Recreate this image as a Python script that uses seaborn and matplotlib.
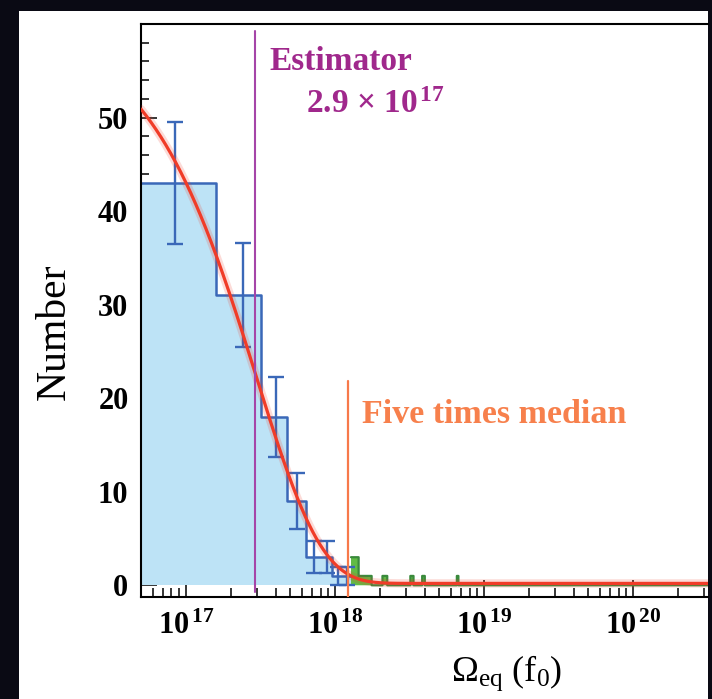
import numpy as np
import pandas as pd
import matplotlib
matplotlib.use("Agg")
import matplotlib.pyplot as plt
import seaborn as sns
from matplotlib.patches import Rectangle
from matplotlib.ticker import FixedLocator, FixedFormatter, MultipleLocator, LogLocator, NullFormatter

# ---------------- data ----------------
bin_width = 1.6e17
blue_edges = np.array([0.1, 1.6, 3.2, 4.8, 6.4, 8.0, 9.6, 11.2, 12.8]) * 1e17
blue_counts = np.array([43, 31, 18, 9, 3, 3, 1, 1])
green_bin_low = np.array([12.8, 14.4, 16.0, 20.8, 32.0, 38.4, 65.6]) * 1e17
green_counts = np.array([3, 1, 1, 1, 1, 1, 1])
green_first_bin = 8
green_last_bin = 2000

fit_amplitude = 60.0
fit_scale = 2.97e17
fit_offset = 0.2

estimator = 2.9e17
median = 2.46e17

x_ticks = [1e17, 1e18, 1e19, 1e20]
x_tick_labels = [r"$10^{\,17}$", r"$10^{\,18}$", r"$10^{\,19}$", r"$10^{\,20}$"]
y_ticks = [0, 10, 20, 30, 40, 50]
y_tick_labels = ["0", "10", "20", "30", "40", "50"]

# ---------------- style ----------------
sns.set_theme(style="white")
plt.rcParams["font.family"] = ["Liberation Serif", "DejaVu Serif"]
plt.rcParams["mathtext.fontset"] = "custom"
plt.rcParams["mathtext.rm"] = "Liberation Serif"
plt.rcParams["mathtext.bf"] = "Liberation Serif:bold"
plt.rcParams["mathtext.it"] = "Liberation Serif:italic"
plt.rcParams["mathtext.default"] = "bf"
plt.rcParams["text.color"] = "black"
plt.rcParams["axes.labelcolor"] = "black"
plt.rcParams["xtick.color"] = "black"
plt.rcParams["ytick.color"] = "black"

W, H = 712, 699
fig = plt.figure(figsize=(W / 100, H / 100), dpi=100, facecolor="#0a0a14")
fig.add_artist(Rectangle((19 / W, 0), (708 - 19) / W, (H - 11) / H,
                         transform=fig.transFigure, facecolor="white",
                         edgecolor="none", zorder=-1))
ax = fig.add_axes([141 / W, (H - 596.5) / H, (708 - 141) / W, (596.5 - 24) / H])
ax.set_facecolor("white")

blue_fill = "#bde3f6"
blue_line = "#3a68b8"
green_fill = "#62bb45"
green_line = "#3a8a3c"

blue_centers = 0.5 * (blue_edges[:-1] + blue_edges[1:])
green_centers = green_bin_low + bin_width / 2
green_edges = bin_width * np.arange(green_first_bin, green_last_bin + 1)

blue_df = pd.DataFrame({"omega": blue_centers, "n": blue_counts})
green_df = pd.DataFrame({"omega": green_centers, "n": green_counts})
blue_bins = list(blue_edges)
green_bins = list(green_edges)

# blue histogram (fill then outline)
sns.histplot(data=blue_df, x="omega", weights="n", bins=blue_bins, element="step",
             fill=True, facecolor=blue_fill, edgecolor="none", linewidth=0,
             alpha=1, ax=ax, zorder=1)
sns.histplot(data=blue_df, x="omega", weights="n", bins=blue_bins, element="step",
             fill=False, color=blue_line, linewidth=1.8, ax=ax, zorder=2)
# green histogram
sns.histplot(data=green_df, x="omega", weights="n", bins=green_bins, element="step",
             fill=True, facecolor=green_fill, edgecolor="none", linewidth=0,
             alpha=1, ax=ax, zorder=1.5)
sns.histplot(data=green_df, x="omega", weights="n", bins=green_bins, element="step",
             fill=False, color=green_line, linewidth=1.6, ax=ax, zorder=2)

# error bars
ax.errorbar(blue_centers, blue_counts, yerr=np.sqrt(blue_counts), fmt="none",
            ecolor=blue_line, elinewidth=1.7, capsize=5.8, capthick=1.7, zorder=3)

# fit curve
xmin = 5e16
xmax = 10 ** (17 + (708 - 186) / 149.1)
fit_x = np.geomspace(xmin, xmax, 800)
fit_y = fit_amplitude * np.exp(-fit_x / fit_scale) + fit_offset
sns.lineplot(x=fit_x, y=fit_y, color="#f03c28", linewidth=6, alpha=0.18, ax=ax, zorder=4)
sns.lineplot(x=fit_x, y=fit_y, color="#f03c28", linewidth=2.3, ax=ax, zorder=5)

ax.set_xscale("log")
ax.set_xlim(xmin, xmax)
ax.set_ylim(-1.2, 60)

# vertical markers
ax.axvline(estimator, ymin=0.008, ymax=0.988, color="#a545a8", linewidth=1.5, zorder=6)
ax.axvline(5 * median, ymin=0, ymax=0.377, color="#f7794a", linewidth=1.6, zorder=6)

ax.text(3.66e17, 55.05, "Estimator", color="#a0288c", fontsize=24,
        fontweight="bold", ha="left", va="baseline")
ax.text(6.38e17, 50.5, r"2.9 × 10$^{\,17}$", color="#a0288c", fontsize=24,
        fontweight="bold", ha="left", va="baseline")
ax.text(1.515e18, 17.3, "Five times median", color="#f7804c", fontsize=24.5,
        fontweight="bold", ha="left", va="baseline")

# axes styling
ax.xaxis.set_major_locator(FixedLocator(x_ticks))
ax.xaxis.set_major_formatter(FixedFormatter(x_tick_labels))
ax.xaxis.set_minor_locator(LogLocator(base=10, subs=np.arange(2, 10), numticks=20))
ax.xaxis.set_minor_formatter(NullFormatter())
ax.yaxis.set_major_locator(FixedLocator(y_ticks))
ax.yaxis.set_major_formatter(FixedFormatter(y_tick_labels))
ax.yaxis.set_minor_locator(MultipleLocator(2))

ax.tick_params(axis="x", which="major", direction="in", length=12, width=1.1,
               color="black", labelcolor="black", labelsize=22, pad=11,
               top=False, bottom=True)
ax.tick_params(axis="x", which="minor", direction="in", length=6.5, width=1.1,
               color="black", top=False, bottom=True)
ax.tick_params(axis="y", which="major", direction="in", length=11.5, width=1.1,
               color="black", labelcolor="black", labelsize=22, pad=9,
               left=True, right=False)
ax.tick_params(axis="y", which="minor", direction="in", length=6, width=1.1,
               color="black", left=True, right=False)
for lab in ax.get_yticklabels():
    lab.set_fontweight("bold")

for side in ["left", "bottom", "top"]:
    ax.spines[side].set_visible(True)
    ax.spines[side].set_color("black")
    ax.spines[side].set_linewidth(1.5)
ax.spines["right"].set_visible(False)

ax.set_ylabel("Number", fontsize=30, fontweight="normal", color="black")
ax.yaxis.set_label_coords(-0.118, 0.463)
ax.set_xlabel(r"Ω$_{\mathrm{eq}}$ (f$_{\mathrm{0}}$)", fontsize=26,
              fontweight="normal", color="black")
ax.xaxis.set_label_coords(0.6455, -0.1)
ax.xaxis.label.set_va("top")

fig.savefig("out.png", dpi=100, facecolor=fig.get_facecolor())
